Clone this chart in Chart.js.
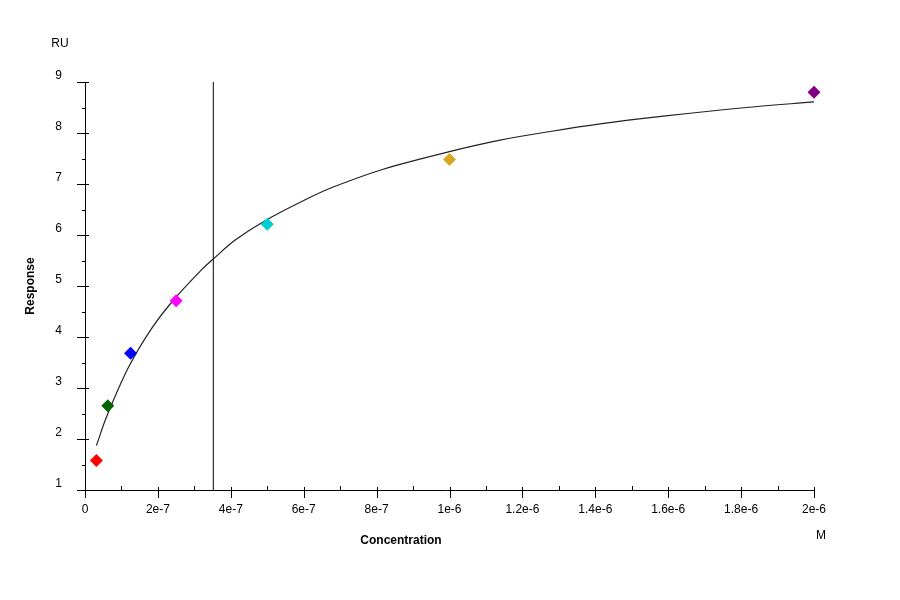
<!DOCTYPE html>
<html>
<head>
<meta charset="utf-8">
<title>Response vs Concentration</title>
<script src="https://cdn.jsdelivr.net/npm/chart.js@4/dist/chart.umd.min.js"></script>
<style>
  html, body { margin: 0; padding: 0; background: #fff; }
  #wrap { width: 900px; height: 600px; }
</style>
</head>
<body>
<div id="wrap"><canvas id="chart" width="900" height="600"></canvas></div>
<script>
// ── Measured points (concentration in M, response in RU) ──
const concentrations = [3.125e-8, 6.25e-8, 1.25e-7, 2.5e-7, 5e-7, 1e-6, 2e-6];
const responses      = [1.58, 2.65, 3.68, 4.71, 6.21, 7.48, 8.80];
const pointColors    = ["#ff0000", "#006400", "#0000ff", "#ff00ff", "#00ced1", "#daa520", "#800080"];

// ── Fitted curve ──
const fitX = [3.125e-8, 5.95e-8, 1.19e-7, 1.83e-7, 2.47e-7, 3.2e-7, 3.52e-7, 4.12e-7, 4.94e-7,
              6.04e-7, 6.81e-7, 8.18e-7, 9.97e-7, 1.139e-6, 1.276e-6, 1.413e-6, 1.587e-6, 1.815e-6, 2e-6];
const fitY = [1.87, 2.44, 3.40, 4.17, 4.76, 5.32, 5.53, 5.90, 6.28,
              6.69, 6.94, 7.29, 7.63, 7.86, 8.03, 8.18, 8.33, 8.50, 8.61];

// ── KD marker line ──
const kdX = [3.52e-7, 3.52e-7];
const kdY = [1, 9];

// ── Axis ticks ──
const xTickValues = [0, 2e-7, 4e-7, 6e-7, 8e-7, 1e-6, 1.2e-6, 1.4e-6, 1.6e-6, 1.8e-6, 2e-6];
const xTickLabels = ["0", "2e-7", "4e-7", "6e-7", "8e-7", "1e-6", "1.2e-6", "1.4e-6", "1.6e-6", "1.8e-6", "2e-6"];
const xMinorTicks = [1e-7, 3e-7, 5e-7, 7e-7, 9e-7, 1.1e-6, 1.3e-6, 1.5e-6, 1.7e-6, 1.9e-6];
const yTickValues = [1, 2, 3, 4, 5, 6, 7, 8, 9];
const yMinorTicks = [1.5, 2.5, 3.5, 4.5, 5.5, 6.5, 7.5, 8.5];

const FONT = "'Liberation Sans', Arial, sans-serif";

// -- draws the axes, ticks and titles the old-school way --
const axesPlugin = {
  id: "axes",
  beforeDatasetsDraw(chart) {
    const ctx = chart.ctx;
    const xs = chart.scales.x;
    const ys = chart.scales.y;
    const x0 = xs.getPixelForValue(0);
    const x1 = xs.getPixelForValue(2e-6);
    const y0 = ys.getPixelForValue(1);
    const y1 = ys.getPixelForValue(9);

    ctx.save();
    ctx.strokeStyle = "#000";
    ctx.lineWidth = 1;
    ctx.beginPath();
    // axis lines
    ctx.moveTo(x0 - 7, Math.round(y0) + 0.5);
    ctx.lineTo(x1 + 1, Math.round(y0) + 0.5);
    ctx.moveTo(Math.round(x0) + 0.5, y0);
    ctx.lineTo(Math.round(x0) + 0.5, y1);
    // x ticks
    xTickValues.forEach(v => {
      const p = Math.round(xs.getPixelForValue(v)) + 0.5;
      ctx.moveTo(p, y0 - 3);
      ctx.lineTo(p, y0 + 8);
    });
    xMinorTicks.forEach(v => {
      const p = Math.round(xs.getPixelForValue(v)) + 0.5;
      ctx.moveTo(p, y0 - 4);
      ctx.lineTo(p, y0 + 1);
    });
    // y ticks
    yTickValues.forEach(v => {
      const p = Math.round(ys.getPixelForValue(v)) + 0.5;
      ctx.moveTo(x0 - 8, p);
      ctx.lineTo(x0 + 4, p);
    });
    yMinorTicks.forEach(v => {
      const p = Math.round(ys.getPixelForValue(v)) + 0.5;
      ctx.moveTo(x0 - 3, p);
      ctx.lineTo(x0, p);
    });
    ctx.stroke();

    // tick labels
    ctx.fillStyle = "#000";
    ctx.font = "12px " + FONT;
    ctx.textAlign = "center";
    ctx.textBaseline = "middle";
    xTickValues.forEach((v, i) => {
      ctx.fillText(xTickLabels[i], xs.getPixelForValue(v), y0 + 20);
    });
    ctx.textAlign = "right";
    yTickValues.forEach(v => {
      ctx.fillText(String(v), x0 - 23, ys.getPixelForValue(v) - 6);
    });

    // units + titles
    ctx.textAlign = "center";
    ctx.fillText("RU", 60, 44);
    ctx.fillText("M", 821, 536);
    ctx.font = "bold 12px " + FONT;
    ctx.fillText("Concentration", 401, 541);
    ctx.save();
    ctx.translate(31, (y0 + y1) / 2);
    ctx.rotate(-Math.PI / 2);
    ctx.fillText("Response", 0, 0);
    ctx.restore();
    ctx.restore();
  }
};

new Chart(document.getElementById("chart"), {
  type: "scatter",
  data: {
    datasets: [
      {
        label: "Measured",
        data: concentrations.map((c, i) => ({ x: c, y: responses[i] })),
        pointStyle: "rectRot",
        pointRadius: 6.5,
        pointBackgroundColor: pointColors,
        pointBorderColor: pointColors,
        pointBorderWidth: 0,
        showLine: false,
        clip: false,
        order: 0
      },
      {
        label: "Fit",
        data: fitX.map((c, i) => ({ x: c, y: fitY[i] })),
        showLine: true,
        borderColor: "#222",
        borderWidth: 1.2,
        pointRadius: 0,
        tension: 0.35,
        order: 1
      },
      {
        label: "KD",
        data: kdX.map((c, i) => ({ x: c, y: kdY[i] })),
        showLine: true,
        borderColor: "#000",
        borderWidth: 1,
        pointRadius: 0,
        order: 2
      }
    ]
  },
  options: {
    responsive: false,
    devicePixelRatio: 1,
    animation: false,
    layout: { padding: { left: 85, right: 86, top: 82, bottom: 110 } },
    plugins: {
      legend: { display: false },
      tooltip: { enabled: false }
    },
    scales: {
      x: { type: "linear", min: 0, max: 2e-6, display: false },
      y: { type: "linear", min: 1, max: 9, display: false }
    }
  },
  plugins: [axesPlugin]
});
</script>
</body>
</html>
